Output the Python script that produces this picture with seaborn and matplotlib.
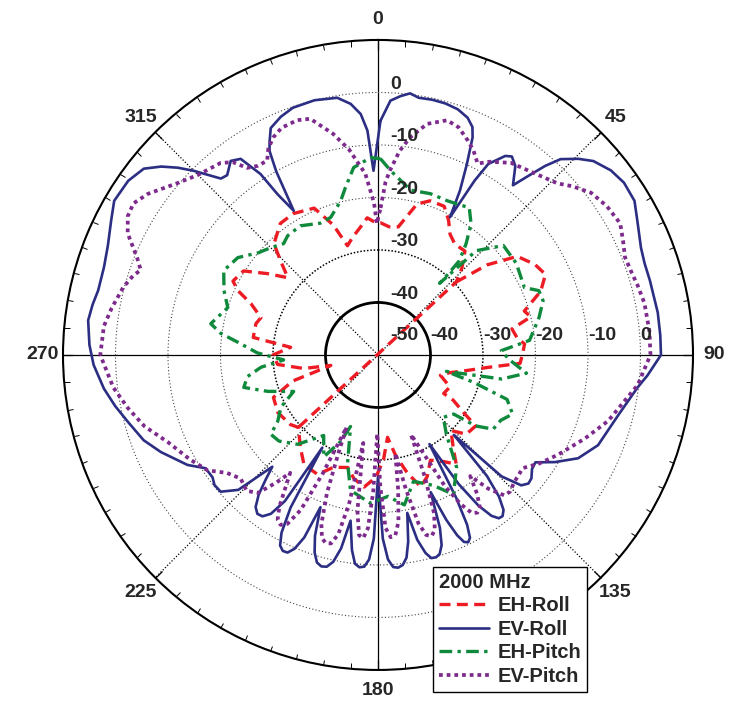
import numpy as np
import matplotlib
matplotlib.use("Agg")
import matplotlib.pyplot as plt
from matplotlib.lines import Line2D
import seaborn as sns

# ---------------- data (angle in degrees, level in dB) ----------------
SERIES_NAMES = ["EH-Roll", "EV-Roll", "EH-Pitch", "EV-Pitch"]
THETA_LABELS = ["0", "45", "90", "135", "180", "225", "270", "315"]
R_TICKS = [-50, -40, -30, -20, -10, 0, 10]
R_LABELS_H = ["-50", "-40", "-30", "-20", "-10", "0"]
R_LABELS_V = ["-40", "-30", "-20", "-10", "0"]
LEGEND_TITLE = "2000 MHz"

ehr_ang = [47, 50.5, 54.7, 60, 64.3, 68.6, 73.3, 76, 79, 83, 85.7, 90, 93.4, 96.5,
           99.8, 104, 108, 114, 120.4, 121, 123.9, 126, 131.9, 136, 141.6, 144.4,
           148.5, 153.5, 158, 162, 166, 170, 173.4, 177, 181, 186, 191, 195, 201.6,
           206.8, 214, 220, 227.7, 231.5, 240, 247.9, 253, 257.5, 259.7, 264.6, 270,
           275, 278, 284.4, 287.7, 292, 294.7, 297, 302, 306.4, 310.6, 314, 316.9,
           323.4, 329, 336.5, 341, 344.4, 348, 352, 355.5, 359, 1, 5, 9, 14.5, 18.7,
           24, 27.6, 30.8, 34.7, 39.9, 44, 47, 227.7]
ehr_db = [-29.6, -23, -17.5, -15.5, -14.6, -16.7, -20.9, -20, -24, -23.3, -22, -22.5,
          -22.9, -29, -32.7, -36, -37.5, -35, -35.5, -33.3, -30.4, -27, -27.4, -30,
          -26.8, -24.4, -26.2, -27.6, -25, -23.6, -26.8, -30.5, -34.2, -30, -26.7,
          -24.7, -26, -27.8, -27, -24.5, -24.8, -27, -29.5, -28.7, -28, -28.5, -33,
          -40.8, -35.6, -30.8, -30, -33.3, -26, -26, -26.6, -23.9, -20.6, -19, -19.8,
          -23.9, -27.4, -24.2, -21, -18.8, -18.6, -19.5, -23.8, -28.4, -27, -25.5,
          -23.8, -24.8, -24.8, -25.5, -25.3, -20.3, -19, -19, -21, -23.2, -24.3,
          -24.2, -27, -29.6, -29.5]

evr_ang = [0.6, 2.8, 5, 7, 9, 12, 15, 18, 20.7, 22.5, 23.5, 25, 26.5, 27.6, 29, 30,
           32.6, 34, 36, 38.5, 40, 41.5, 43, 45.6, 48, 51.6, 55, 59, 63, 67.8, 71,
           74.7, 78, 81.4, 86, 90, 94.3, 97.2, 104, 112.3, 117.3, 121.2, 124.3, 126.5,
           128.8, 130.5, 132.3, 134.5,
           136.5, 138, 139.5, 141, 142.3, 143.5, 144.8, 146.3, 148,
           150, 151.3, 152.3, 153.3, 154.3, 155.3, 156.3, 157.5,
           159, 160.3, 161.5, 162.8, 164, 165.3, 166.5, 168,
           169.5, 170.8, 172, 173.3, 174.6, 175.9, 177.2, 178.5,
           180, 181.3, 182.5, 183.7, 185, 186.3, 187.6,
           189.4, 190.8, 192.2, 193.6, 195, 196.4, 197.8, 199.2,
           200.7, 202, 203.3, 204.6, 205.9, 207.2, 208.5, 209.8,
           211, 212.5, 214, 215.6, 217.2, 218.8, 220.5, 222,
           223.4, 226, 229, 231.5, 233.5, 236.7, 240, 245.9, 250, 255, 259, 263, 268,
           272, 276.8, 280, 283, 287.7, 292, 296.7, 300.3, 304.9, 308.5, 311, 313.1,
           315, 317, 318.3, 320, 322.8, 325, 327, 328, 329.7, 331, 332, 333, 334.7,
           337.8, 341, 346, 351, 353.8, 355.9, 357.3, 358.6, 360.6]
evr_db = [-5.4, -1.5, -0.5, 0.2, -0.4, -0.3, -0.4, -0.8, -1.7, -3, -4.8, -10, -15,
          -20.4, -12, -8, -5, -4.4, -5.5, -8.7, -5.5, -1.9, 1, 3.4, 5.2, 6.6, 7.2, 7,
          5.5, 4.1, 3.7, 3.7, 3.7, 3.9, 3.9, 3.9, 1.5, -0.2, -2.8, -4.7, -7.1, -10.6,
          -13.7, -13.5, -12.5, -12.3, -13.1, -17,
          -29, -19, -14.5, -12, -11.2, -11.3, -12.5, -15.5, -21,
          -30.4, -19, -13.5, -11, -10.4, -10.8, -12.5, -16,
          -22, -15, -11.8, -10.3, -9.9, -10, -11.2, -14,
          -19.4, -14, -11, -9.7, -9.3, -9.5, -11, -15,
          -26.8, -15, -11, -9.6, -9.4, -10, -12.5,
          -18, -12.5, -9.7, -8.5, -8.3, -8.8, -10.5, -13.5,
          -19, -12.5, -9.8, -8.6, -8.5, -9.2, -11.5, -16.5,
          -29.4, -17, -13.5, -12.2, -12, -12.8, -15, -18,
          -20.7, -13, -10.3, -10.2, -10.8, -10.7, -8.1, -4.7, -2.5, -0.7, 1, 2.6, 4.2,
          5, 5.6, 5.2, 4.7, 4.8, 5.5, 6.9, 8.2, 8, 7, 4.7, 2.2,
          -0.4, -3.3, -5, -5.3, -3.6, -4.4, -8.9, -13.9, -18.2, -10, -6, -4.5, -2.2,
          -1, -0.2, 0, -0.4, -1.9, -4, -7.2, -14.9, -5.4]

ehp_ang = [0.7, 3.9, 11.2, 18, 24.2, 28, 31.8, 35.4, 38.4, 40.8, 40.9, 40.7, 43.3,
           48.9, 56.5, 65.3, 68.2, 71.8, 76.9, 84.5, 88, 92, 97, 101, 103.5, 106, 109,
           113.7, 118, 122.8, 126, 128, 133.7, 139.3, 145, 151.6, 157, 164.3, 170, 176,
           182.9, 188, 191.5, 195.7, 201, 203.4, 208, 214, 222, 229, 233.5, 236.5,
           241.7, 246.6, 251.7, 256.4, 260.6, 264, 267, 271, 275, 277.8, 280.6, 287.5,
           292.7, 298.7, 304.8, 310.4, 315, 319.7, 322.9, 329, 336.4, 341, 346.4, 349,
           352.6, 357.8, 360.7]
ehp_db = [-12.6, -14.8, -18, -17.7, -17.8, -17.5, -17, -19.4, -23, -26.3, -29.5, -32,
          -22.7, -18.3, -18.4, -19.3, -17, -16.9, -18.5, -21, -26.5, -25, -21.5, -26,
          -36.6, -31, -24, -22, -23.5, -23.9, -27, -31.7, -32.8, -30, -23.9, -19.8,
          -23, -25, -21, -23, -21.7, -23, -23.7, -28.6, -35.4, -32, -28, -31.5, -27.1,
          -25, -24.6, -27.1, -29, -32.5, -27.9, -23.7, -24.8, -27.6, -32, -27, -23.4,
          -19.8, -17.6, -20, -18.2, -16.5, -17.5, -20, -21.1, -22.2, -21.5, -21.3,
          -22.6, -22.3, -19.8, -17.5, -14, -12.4, -12.6]

evp_ang = [1, 2.5, 3.7, 6, 8.3, 12, 16.4, 19.5, 22.7, 25, 27.5, 30, 34.7, 40, 46.3, 49,
           52.7, 57, 61.5, 65, 68.4, 72, 75, 79, 85, 90, 96.6, 106, 112, 119, 124, 128,
           133, 136, 138, 140.5, 142.7, 144.5, 146.3, 147.8, 149.3, 151, 153, 155.8,
           157.5, 159, 160.5, 162, 163.5, 165, 166.5, 168.3, 170, 171.5, 173, 174.5,
           176, 177.5, 179, 180.5, 182, 183.3, 184.6, 186, 187.5, 189.5, 191, 192.5,
           194, 195.5, 197, 198.5, 200.3, 202, 203.5, 205, 206.5, 208.2, 209.8, 211.3,
           213, 214.8, 216.7, 218.5, 221, 224, 228, 232, 235.9, 241, 247.4, 253, 258,
           263, 268, 270, 276, 280, 284.9, 288, 289.7, 292, 295.9, 299, 301.8, 305,
           310.6, 315, 320.6, 323, 325, 327.5, 330.3, 332, 334.3, 337, 341, 344, 348.5,
           352, 356, 358.5, 359.5, 361]
evp_db = [-22, -17, -14.8, -11, -8.2, -5, -3.4, -4, -5.7, -7, -8.9, -7.5, -5.5, -4.5,
          -2.7, -1, 1, 2, 2.5, 1.5, 0.6, 0.8, 1.2, 1.7, 1.9, 1.9, -0.2, -4.4, -7.5,
          -10.8, -13, -15,
          -14.5, -13.8, -14, -17, -21, -17.5, -15, -14.5, -15, -17.5, -22, -30.7,
          -33.6, -25, -18, -15, -14, -14.5, -17, -24, -31, -24, -18, -15.5,
          -15.2, -17, -25, -35, -24, -17, -15, -15.5, -20, -33, -21, -15,
          -13, -12.8, -13.5, -16, -22, -30, -35, -25, -17, -13.5, -12.7, -13.2,
          -15.5, -19, -22, -19, -15.2, -14, -14.8, -13.5, -10.8, -9, -6.7, -3.5, -1.3,
          0.8, 2.2, 2.9, 2.5, 1.5, 0.2, -1, -2, -0.5, 3, 4.5, 4.8, 3.5,
          0.3, -1.5, -2.7, -4, -6.5, -7.3, -7.4, -5.5, -4, -3, -2.7, -3.2, -7,
          -10.5, -15.4, -21, -25, -22]

SERIES_ANG = [ehr_ang, evr_ang, ehp_ang, evp_ang]
SERIES_DB = [ehr_db, evr_db, ehp_db, evp_db]

# ---------------- styles ----------------
COLORS = ["#ED1C24", "#2B2E83", "#0F8A3C", "#7D2A8D"]
WIDTHS = [2.4, 1.9, 2.4, 2.7]
DASHES = [(0, (3.3, 1.9)), "-", (0, (3.8, 1.6, 1.0, 1.6)), (0, (1.0, 1.05))]

sns.set_style("white")
plt.rcParams["font.family"] = ["Liberation Sans", "DejaVu Sans"]
plt.rcParams["font.weight"] = "bold"

fig = plt.figure(figsize=(7.30, 7.04), dpi=100)
ax = fig.add_axes([0.0863, 0.0483, 0.863, 0.895], projection="polar")
ax.set_theta_zero_location("N")
ax.set_theta_direction(-1)

for ang, db, c, w, ls in zip(SERIES_ANG, SERIES_DB, COLORS, WIDTHS, DASHES):
    sns.lineplot(x=np.deg2rad(ang), y=db, ax=ax, sort=False, estimator=None,
                 color=c, linewidth=w, linestyle=ls, legend=False,
                 dash_capstyle="butt", solid_joinstyle="round")

ax.set_xlabel("")
ax.set_ylabel("")
ax.set_ylim(R_TICKS[0], R_TICKS[-1])
ax.set_yticks(R_TICKS)
ax.set_yticklabels([])
ax.tick_params(axis="y", length=0)

ax.set_xticks(np.deg2rad(np.arange(0, 360, 45)))
ax.set_xticklabels(THETA_LABELS, fontsize=14, fontweight="bold")
ax.set_xticks(np.deg2rad(np.arange(0, 360, 5)), minor=True)
ax.tick_params(axis="x", which="major", direction="in", length=7, width=0.9, pad=8,
               bottom=False, top=True, color="black")
ax.tick_params(axis="x", which="minor", direction="in", length=4, width=0.7,
               bottom=False, top=True, color="black")
ax.set_axisbelow(True)
ax.grid(True)
ax.spines["polar"].set_linewidth(1.5)
ax.spines["polar"].set_color("black")

for i, gl in enumerate(ax.xaxis.get_gridlines()):
    if i % 2 == 0:
        gl.set_linestyle("-")
        gl.set_linewidth(0.9)
    else:
        gl.set_linestyle((0, (1, 1.5)))
        gl.set_linewidth(0.9)
    gl.set_color("black")

for r, gl in zip(R_TICKS, ax.yaxis.get_gridlines()):
    gl.set_color("black")
    if r == -40:
        gl.set_linestyle("-")
        gl.set_linewidth(2.0)
    elif r == -30:
        gl.set_linestyle((0, (1, 1.2)))
        gl.set_linewidth(1.1)
    else:
        gl.set_linestyle((0, (1, 2)))
        gl.set_linewidth(0.8)
        gl.set_color("#444444")

# radial labels along the horizontal (90 deg) axis and the vertical (0 deg) axis
for lab in R_LABELS_H:
    r = float(lab)
    dx = 9 if r == -50 else 0
    ax.annotate(lab, xy=(np.pi / 2, r), xytext=(dx, 10.5), textcoords="offset points",
                ha="left", va="baseline", fontsize=14, fontweight="bold")
for lab in R_LABELS_V:
    r = float(lab)
    ax.annotate(lab, xy=(0, r), xytext=(9, 2.5), textcoords="offset points",
                ha="left", va="baseline", fontsize=14, fontweight="bold")

handles = [Line2D([], [], color=c, lw=w, linestyle=ls, dash_capstyle="butt")
           for c, w, ls in zip(COLORS, WIDTHS, DASHES)]
leg = fig.legend(handles, SERIES_NAMES, loc="upper left",
                 bbox_to_anchor=(433 / 730, 1 - 567 / 704), bbox_transform=fig.transFigure,
                 borderaxespad=0, borderpad=0.3, handlelength=2.5, handletextpad=0.4,
                 labelspacing=0.22, fancybox=False, framealpha=1, edgecolor="black",
                 title=LEGEND_TITLE, alignment="left",
                 prop={"size": 14.5, "weight": "bold"},
                 title_fontproperties={"size": 14.5, "weight": "bold"})
leg.get_frame().set_linewidth(1.0)

fig.savefig("out.png", dpi=100)
